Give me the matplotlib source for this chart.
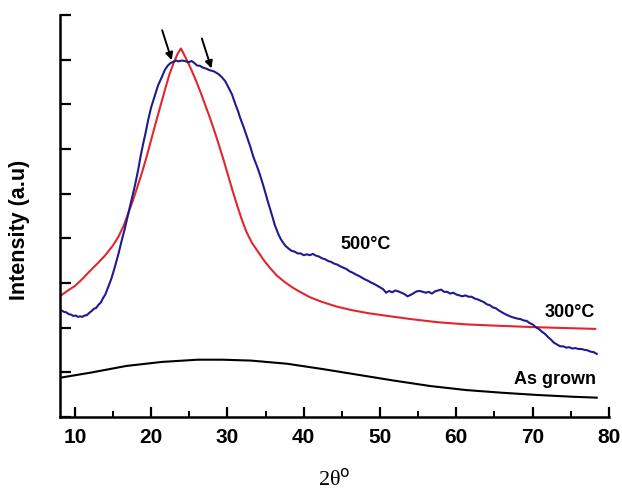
import matplotlib
matplotlib.use('Agg')
import matplotlib.pyplot as plt
import numpy as np

# XRD patterns (2theta in degrees, intensity in arbitrary units)
two_theta_500 = [8.3, 8.6, 8.9, 9.2, 9.5, 9.8, 10.1, 10.4, 10.7, 11.0, 11.3, 11.6,
                 11.9, 12.2, 12.5, 12.8, 13.1, 13.4, 13.7, 14.0, 14.4, 14.8, 15.25,
                 15.7, 16.1, 16.5, 16.8, 17.1, 17.4, 17.9, 18.3, 18.6, 18.96, 19.3,
                 19.6, 20.0, 20.5, 20.9, 21.4, 21.8, 22.2, 22.6, 22.9, 23.3, 23.6,
                 24.0, 24.4, 24.9, 25.3, 25.7, 26.0, 26.4, 26.8, 27.2, 27.7, 28.0,
                 28.3, 28.8, 29.25, 29.7, 30.1, 30.6, 31.0, 31.4, 31.7, 32.1, 32.5,
                 33.0, 33.4, 33.9, 34.3, 34.7, 35.0, 35.3, 35.6, 35.9, 36.2, 36.5,
                 36.7, 37.0, 37.3, 37.6,
                 38.0, 38.4, 38.8, 39.2, 39.6, 40.0, 40.4, 40.8, 41.2, 41.6, 42.0,
                 42.4, 42.8, 43.2, 43.6, 44.0, 44.4, 44.8, 45.2, 45.6, 46.0, 46.4,
                 46.8, 47.2, 47.6, 48.0, 48.4, 48.8, 49.2, 49.6, 50.0, 50.4, 50.8,
                 51.2, 51.6, 52.0, 52.4, 52.8, 53.2, 53.6, 54.0, 54.4, 54.8, 55.2,
                 55.6, 56.0, 56.4, 56.8, 57.2, 57.6, 58.0, 58.4, 58.8, 59.2, 59.6,
                 60.0, 60.4, 60.8, 61.2, 61.6, 62.0, 62.4, 62.8, 63.2, 63.6, 64.0,
                 64.4, 64.8, 65.2, 65.6, 66.0, 66.4, 66.8, 67.2, 67.6, 68.0, 68.4,
                 68.8, 69.2, 69.6, 70.0, 70.4, 70.8, 71.2, 71.6, 72.0, 72.4, 72.8,
                 73.2, 73.6, 74.0, 74.4, 74.8, 75.2, 75.6, 76.0, 76.4, 76.8, 77.2,
                 77.6, 78.0, 78.4]
intensity_500 = [2.38, 2.35, 2.34, 2.30, 2.29, 2.26, 2.27, 2.24, 2.25, 2.24, 2.27, 2.28,
                 2.33, 2.37, 2.42, 2.44, 2.51, 2.56, 2.66, 2.74, 2.92, 3.10, 3.36,
                 3.64, 3.92, 4.18, 4.40, 4.62, 4.85, 5.20, 5.53, 5.82, 6.12, 6.38,
                 6.64, 6.93, 7.20, 7.42, 7.61, 7.77, 7.87, 7.93, 7.95, 7.98, 7.96,
                 7.98, 7.97, 7.94, 7.97, 7.92, 7.87, 7.86, 7.82, 7.80, 7.76, 7.75,
                 7.73, 7.68, 7.61, 7.52, 7.39, 7.22, 7.02, 6.84, 6.68, 6.50, 6.30,
                 6.05, 5.82, 5.60, 5.40, 5.18, 5.00, 4.82, 4.65, 4.48, 4.30, 4.17,
                 4.08, 3.98, 3.90, 3.83,
                 3.77, 3.72, 3.70, 3.66, 3.66, 3.62, 3.64, 3.62, 3.65, 3.61, 3.59,
                 3.55, 3.53, 3.49, 3.47, 3.43, 3.41, 3.37, 3.34, 3.31, 3.26, 3.23,
                 3.19, 3.16, 3.12, 3.08, 3.05, 3.01, 2.98, 2.94, 2.90, 2.86, 2.78,
                 2.82, 2.79, 2.83, 2.81, 2.78, 2.75, 2.70, 2.73, 2.77, 2.81, 2.82,
                 2.80, 2.78, 2.80, 2.76, 2.81, 2.83, 2.85, 2.80, 2.80, 2.76, 2.78,
                 2.74, 2.72, 2.70, 2.72, 2.69, 2.69, 2.65, 2.63, 2.60, 2.57, 2.52,
                 2.50, 2.45, 2.43, 2.38, 2.34, 2.30, 2.27, 2.24, 2.22, 2.20, 2.19,
                 2.16, 2.15, 2.10, 2.07, 2.01, 1.97, 1.91, 1.86, 1.79, 1.73, 1.66,
                 1.62, 1.58, 1.58, 1.55, 1.56, 1.53, 1.54, 1.52, 1.52, 1.50, 1.49,
                 1.46, 1.45, 1.41]

two_theta_300 = [8.2, 9.0, 10.0, 11.0, 12.0, 13.0, 14.0, 15.0, 15.7, 16.4, 17.0, 17.6,
                 18.2, 18.8, 19.4, 20.0, 20.6, 21.2, 21.8, 22.4, 23.0, 23.5, 23.9,
                 24.3, 24.8, 25.3, 25.9, 26.5, 27.1, 27.7, 28.3, 28.9, 29.5, 30.1,
                 30.7, 31.3, 31.9, 32.5, 33.2, 34.0, 34.8, 35.6, 36.5, 37.5, 38.5,
                 39.5, 40.8, 42.3, 44.3, 46.3, 48.5, 51.0, 54.0, 57.5, 61.4, 65.5,
                 70.1, 74.0, 78.2]
intensity_300 = [2.72, 2.82, 2.93, 3.09, 3.27, 3.44, 3.62, 3.84, 4.03, 4.28, 4.56, 4.84,
                 5.15, 5.47, 5.82, 6.20, 6.58, 6.95, 7.32, 7.67, 7.95, 8.14, 8.25,
                 8.12, 7.95, 7.76, 7.52, 7.26, 6.98, 6.70, 6.40, 6.08, 5.75, 5.40,
                 5.05, 4.72, 4.41, 4.14, 3.90, 3.70, 3.50, 3.33, 3.16, 3.02, 2.90,
                 2.80, 2.68, 2.58, 2.47, 2.39, 2.32, 2.26, 2.19, 2.12, 2.07, 2.04,
                 2.01, 1.99, 1.97]

two_theta_grown = [8.2, 12.06, 16.75, 21.4, 26.1, 29.4, 33.1, 37.8, 42.5, 47.2, 51.9,
                   56.6, 61.3, 66.0, 70.6, 75.3, 78.4]
intensity_grown = [0.88, 0.99, 1.14, 1.23, 1.28, 1.28, 1.26, 1.19, 1.07, 0.94, 0.81,
                   0.69, 0.60, 0.54, 0.49, 0.45, 0.43]

# shoulders marked with arrows on the 500 C pattern
shoulder_x = [22.7, 27.9]

plt.rcParams['font.family'] = ['Liberation Sans', 'DejaVu Sans']
plt.rcParams['xtick.direction'] = 'in'
plt.rcParams['ytick.direction'] = 'in'

fig = plt.figure(figsize=(6.22, 4.91), dpi=100)
ax = fig.add_axes([0.097, 0.151, 0.882, 0.8185])

ax.plot(two_theta_grown, intensity_grown, color='black', lw=1.5)
ax.plot(two_theta_300, intensity_300, color='#e3262d', lw=1.5)
ax.plot(two_theta_500, intensity_500, color='#1c1c8f', lw=1.5)

for sx in shoulder_x:
    sy = np.interp(sx, two_theta_500, intensity_500)
    ax.annotate('', xy=(sx, sy + 0.05), xytext=(sx - 1.25, sy + 0.72),
                arrowprops=dict(arrowstyle='-|>', color='black', lw=1.4,
                                mutation_scale=11, shrinkA=0, shrinkB=0))

ax.text(44.8, 3.85, '500°C', fontsize=13, fontweight='bold', va='center')
ax.text(71.6, 2.33, '300°C', fontsize=13, fontweight='bold', va='center')
ax.text(67.6, 0.83, 'As grown', fontsize=13, fontweight='bold', va='center')

ax.set_xlim(8.1, 80)
ax.set_ylim(0, 9)
ax.set_xticks(range(10, 81, 10))
ax.set_xticks(range(15, 80, 10), minor=True)
ax.set_yticks(range(0, 10))
ax.set_yticklabels([])
for lab in ax.get_xticklabels():
    lab.set_fontweight('bold')
ax.tick_params(axis='x', which='major', length=7, width=1.6, labelsize=15, pad=8)
ax.tick_params(axis='x', which='minor', length=4, width=1.4)
ax.tick_params(axis='y', which='major', length=8, width=1.6)

for side in ['top', 'right']:
    ax.spines[side].set_visible(False)
for side in ['left', 'bottom']:
    ax.spines[side].set_linewidth(1.8)

ax.set_xlabel('2θ$^\\mathrm{o}$', fontsize=16, family='Liberation Serif')
ax.xaxis.set_label_coords(0.5, -0.128)
ax.set_ylabel('Intensity (a.u)', fontsize=15.5, fontweight='bold')
ax.yaxis.set_label_coords(-0.056, 0.465)

fig.savefig('out.png', dpi=100)
